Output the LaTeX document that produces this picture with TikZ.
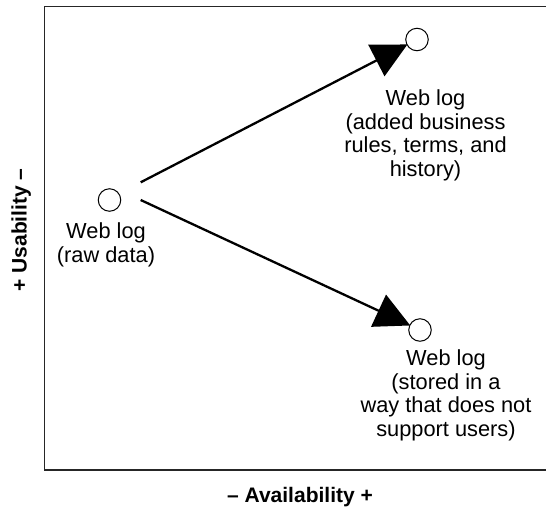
\documentclass[tikz,border=0pt]{standalone}
\usepackage{fontspec}
\setmainfont{Liberation Sans}
\usetikzlibrary{arrows.meta}
\tikzset{
  dot/.style={circle, draw=black, line width=1pt, minimum size=22.5pt, inner sep=0pt, fill=white},
  lbl/.style={anchor=north, align=center, inner sep=0pt, font=\fontsize{21.8}{23.6}\selectfont},
  axislbl/.style={anchor=base, inner sep=0pt, font=\fontsize{21}{24}\selectfont\bfseries},
  conn/.style={line width=2.3pt, -{Triangle[length=35pt,width=35pt]}, shorten >=-1pt},
  frame/.style={line width=1.5pt, draw=black!85}
}
\begin{document}
\begin{tikzpicture}[x=1pt,y=-1pt]
\useasboundingbox (0,0) rectangle (546,509);
\draw[frame] (546,6.5) -- (44.5,6.5) -- (44.5,470) -- (546,470);
\node[dot] (raw) at (109.5,200) {};
\node[dot] (up) at (417,39.5) {};
\node[dot] (down) at (420,330) {};
\node[lbl] (rawt) at (106,222.8) {Web log\\(raw data)};
\node[lbl] (upt) at (425.5,89.5) {Web log\\(added business\\rules, terms, and\\history)};
\node[lbl] (downt) at (446,349.5) {Web log\\(stored in a\\way that does not\\support users)};
\coordinate (s1) at (140.7,182.3);
\coordinate (s2) at (140.7,200);
\draw[conn] (s1) -- (up);
\draw[conn] (s2) -- (down);
\node[axislbl] (xax) at (300,502) {– Availability +};
\node[axislbl, rotate=90] (yax) at (26.7,230) {+ Usability –};
\end{tikzpicture}
\end{document}
